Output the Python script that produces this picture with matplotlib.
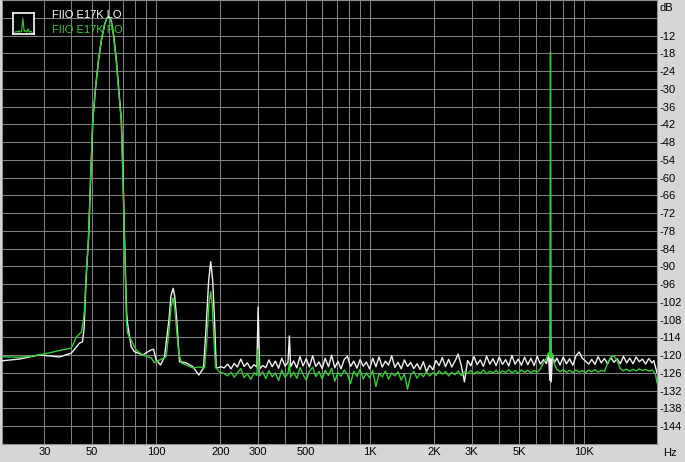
import matplotlib
matplotlib.use('Agg')
import matplotlib.pyplot as plt
from matplotlib.ticker import FixedLocator, NullFormatter

# Axis ticks
x_ticks = [30, 50, 100, 200, 300, 500, 1000, 2000, 3000, 5000, 10000]
x_labels = ['30', '50', '100', '200', '300', '500', '1K', '2K', '3K', '5K', '10K']
x_minor = [40, 60, 70, 80, 90, 400, 600, 700, 800, 900,
           4000, 6000, 7000, 8000, 9000]
y_ticks = [-144, -138, -132, -126, -120, -114, -108, -102, -96, -90, -84, -78,
           -72, -66, -60, -54, -48, -42, -36, -30, -24, -18, -12]
y_minor = [-6]

# FIIO E17K LO (white) - low frequency part
lo_head_freq = [19, 22.9, 28.4, 35.3, 40.1, 43.8, 45.2, 46.0, 46.5, 47.1, 48.3,
                49.4, 50.6, 52.1, 53.8, 55.5, 57.4, 58.9, 60.1, 61.6, 63.3, 65.2,
                66.8, 68.8, 70.1, 71.2, 72.2, 72.8, 73.4, 76.4, 79.1, 86.6, 94.8,
                97.2, 100.0, 104.8, 109.4, 114.8, 117.3, 120.0, 122.1, 124.8,
                128.6, 138.2, 148.5, 158.4, 166.6, 171.5, 176.0, 180.0, 184.0,
                188.0, 191.0, 201.6]
lo_head_db = [-121.9, -121.3, -119.9, -120.6, -119.3, -115.9, -115.5, -111.0,
              -103.0, -93.0, -80.0, -60.0, -40.0, -29.5, -20.2, -13.4, -8.3,
              -6.0, -5.7, -6.9, -12.0, -20.5, -30.0, -41.0, -61.0, -81.5, -98.0,
              -106.0, -109.1, -117.1, -118.8, -119.9, -118.2, -118.0, -121.6,
              -123.3, -120.6, -108.0, -100.0, -97.4, -100.0, -108.0, -122.2,
              -122.6, -123.9, -126.7, -124.3, -110.0, -95.0, -88.4, -95.0,
              -110.0, -124.4, -123.9]

# FIIO E17K PO (green) - low frequency part
po_head_freq = [19, 22.9, 26.3, 31.6, 36.4, 40.1, 42.3, 44.7, 45.7, 46.2, 46.9,
                48.2, 49.3, 50.5, 52.0, 53.7, 55.4, 57.3, 58.8, 60.0, 61.4, 63.1,
                65.0, 66.6, 68.6, 69.9, 71.0, 72.0, 72.6, 73.4, 76.4, 80.6, 86.3,
                94.8, 98.2, 103.6, 109.4, 111.4, 114.8, 117.3, 120.0, 122.1,
                124.8, 127.6, 131.0, 138.2, 148.0, 159.4, 168.4, 172.6, 176.5,
                180.0, 183.0, 186.5, 189.6, 198.0]
po_head_db = [-120.5, -120.7, -120.3, -119.2, -118.2, -117.6, -113.9, -112.2,
              -108.0, -104.7, -94.6, -81.1, -60.8, -40.5, -29.7, -20.3, -13.5,
              -8.4, -6.1, -5.6, -6.8, -11.8, -20.3, -29.7, -40.5, -60.8, -81.1,
              -98.0, -108.1, -112.5, -114.9, -118.2, -119.9, -120.9, -122.6,
              -121.6, -120.9, -120.5, -112.0, -104.0, -100.7, -104.0, -112.0,
              -119.3, -122.6, -123.3, -124.3, -124.0, -124.3, -115.0, -103.0,
              -98.5, -103.0, -115.0, -124.0, -125.7]

# Noise floor, shared frequencies
noise_freq = [208, 216, 224, 232, 240, 249, 258, 267, 277, 287,
              296, 300, 305, 315, 326, 337, 349, 361, 374, 387,
              401, 414, 420, 426, 440, 455, 471, 487, 504, 521,
              540, 558, 578, 598, 618, 640, 662, 685, 709, 733,
              759, 785, 812, 840, 870, 900, 931, 963, 997, 1031,
              1067, 1104, 1142, 1182, 1223, 1265, 1309, 1354, 1401, 1450,
              1500, 1552, 1606, 1662, 1719, 1779, 1840, 1904, 1970, 2038,
              2109, 2182, 2258, 2336, 2417, 2501, 2588, 2677, 2770, 2866,
              2966, 3069, 3175, 3285, 3399, 3517, 3639, 3765, 3896, 4031,
              4171, 4315, 4465, 4620, 4780, 4946, 5117, 5295, 5478, 5668,
              5865, 6068, 6279, 6496, 6700, 6850, 6950, 7000, 7050, 7150,
              7300, 7500, 7760, 8030, 8310, 8600, 8900, 9210, 9530, 9860,
              10200, 10560, 10920, 11300, 11690, 12100, 12520, 12950, 13400, 13870,
              14350, 14850, 15360, 15900, 16450, 17020, 17610, 18220, 18850, 19500,
              20180, 20880, 21300, 21700, 22050]
lo_noise_db = [-124.3, -123.0, -124.6, -122.8, -124.0, -121.3, -123.8, -122.6, -124.5, -123.2,
               -124.0, -103.7, -124.6, -123.5, -124.2, -121.6, -123.9, -122.0, -124.4, -121.0,
               -123.7, -122.4, -113.5, -123.9, -121.9, -124.3, -120.5, -123.6, -121.2, -124.0,
               -120.2, -123.8, -122.3, -124.5, -121.0, -123.9, -120.0, -124.2, -122.1, -124.6,
               -121.4, -120.4, -123.8, -122.0, -124.4, -121.5, -123.7, -122.3, -124.7, -121.0,
               -123.9, -120.6, -124.0, -122.0, -123.4, -120.2, -124.1, -122.4, -124.6, -121.6,
               -123.8, -122.5, -124.5, -122.9, -124.8, -122.2, -125.6, -123.4, -124.9, -121.8,
               -123.5, -120.8, -123.9, -121.4, -124.0, -122.0, -119.6, -123.5, -129.0, -121.8,
               -123.6, -120.5, -123.2, -121.6, -123.8, -120.3, -123.0, -121.2, -123.5, -120.6,
               -123.1, -121.5, -123.6, -120.1, -123.0, -121.3, -123.4, -120.7, -123.2, -121.0,
               -123.5, -120.4, -123.0, -121.5, -122.8, -120.0, -128.5, -113.6, -129.0, -119.8,
               -122.5, -121.0, -123.3, -120.6, -122.9, -121.2, -123.4, -120.2, -118.9, -121.0,
               -122.0, -123.0, -121.4, -123.1, -120.5, -122.6, -121.1, -123.0, -120.8, -122.4,
               -121.2, -122.9, -120.4, -122.6, -121.0, -122.9, -120.6, -122.2, -121.3, -123.0,
               -121.1, -122.6, -121.8, -124.0, -126.0]
po_noise_db = [-126.2, -127.0, -125.8, -127.4, -126.0, -124.5, -127.6, -126.1, -128.2, -125.9,
               -126.8, -118.0, -127.0, -125.6, -127.9, -125.2, -127.3, -126.0, -128.6, -125.0,
               -127.5, -126.2, -122.8, -127.4, -125.7, -127.8, -124.2, -126.6, -128.4, -125.4,
               -124.0, -127.2, -125.5, -128.0, -125.1, -126.9, -124.4, -128.8, -125.8, -127.1,
               -125.0, -126.5, -129.6, -125.4, -127.2, -124.8, -128.0, -126.0, -127.6, -125.2,
               -130.6, -126.1, -127.3, -125.4, -128.1, -126.0, -127.0, -125.6, -128.4, -126.3,
               -131.5, -126.6, -125.5, -127.8, -126.1, -127.3, -125.6, -127.0, -125.9, -126.8,
               -125.3, -126.4, -125.5, -127.0, -125.8, -126.6, -125.3, -126.9, -125.6, -126.2,
               -125.2, -126.4, -125.5, -126.1, -125.0, -126.3, -125.4, -126.0, -125.1, -126.2,
               -125.3, -125.9, -124.9, -126.0, -125.2, -126.1, -125.0, -125.8, -125.1, -126.0,
               -125.2, -125.7, -124.6, -122.5, -121.0, -119.2, -120.5, -17.6, -121.0, -119.5,
               -123.0, -124.8, -125.6, -124.9, -125.8, -125.1, -125.9, -125.0, -125.7, -125.2,
               -125.9, -125.0, -125.6, -124.9, -125.7, -125.1, -125.5, -122.8, -120.6, -120.2,
               -121.8, -124.6, -125.3, -124.7, -125.4, -124.8, -125.3, -124.6, -125.2, -124.8,
               -125.4, -125.0, -125.6, -126.5, -129.3]

# small spectrum drawn inside the legend icon
icon_levels = [1, 1.5, 1, 2, 1, 1.5, 9, 1.5, 2, 1, 3, 1, 1.5, 1]

freq_lo = lo_head_freq + noise_freq
db_lo = lo_head_db + lo_noise_db
freq_po = po_head_freq + noise_freq
db_po = po_head_db + po_noise_db

W, H = 685, 462
fig = plt.figure(figsize=(W / 100, H / 100), dpi=100, facecolor='#d6d6d6')
ax = fig.add_axes([2 / W, 18 / H, 655 / W, 444 / H], facecolor='black')

ax.plot(freq_lo, db_lo, color='#f0f0f0', lw=1.0, zorder=3)
ax.plot(freq_po, db_po, color='#33cc33', lw=1.0, zorder=4)

ax.set_xscale('log')
ax.set_xlim(19, 22050)
ax.set_ylim(-150, 0)

ax.xaxis.set_major_locator(FixedLocator(x_ticks))
ax.set_xticklabels(x_labels)
ax.xaxis.set_minor_locator(FixedLocator(x_minor))
ax.xaxis.set_minor_formatter(NullFormatter())
ax.set_yticks(y_ticks)
ax.set_yticklabels([str(v) for v in y_ticks])
ax.yaxis.set_minor_locator(FixedLocator(y_minor))
ax.yaxis.tick_right()

ax.tick_params(which='both', length=0, labelsize=8, colors='black')
ax.tick_params(axis='x', pad=2.5)
ax.tick_params(axis='y', pad=1.5)
for lab in ax.get_xticklabels() + ax.get_yticklabels():
    lab.set_fontfamily('Liberation Sans')

ax.grid(which='both', color='#808080', lw=0.75, zorder=1)
ax.set_axisbelow(True)
for sp in ax.spines.values():
    sp.set_color('#909090')
    sp.set_linewidth(0.8)

fig.text(660 / W, 1 - 8 / H, 'dB', fontsize=8, family='Liberation Sans',
         ha='left', va='center')
fig.text(663 / W, 1 - 453 / H, 'Hz', fontsize=8, family='Liberation Sans',
         ha='left', va='center')

# Legend
fig.text(52 / W, 1 - 14.5 / H, 'FIIO E17K LO', color='white', fontsize=8,
         family='Liberation Sans', ha='left', va='center')
fig.text(52 / W, 1 - 30 / H, 'FIIO E17K PO', color='#33cc33', fontsize=8,
         family='Liberation Sans', ha='left', va='center')

icon = fig.add_axes([13 / W, 1 - 34 / H, 21 / W, 21 / H], facecolor='black')
icon.plot(range(len(icon_levels)), icon_levels, color='#33cc33', lw=0.8)
icon.set_xlim(-1.5, len(icon_levels) + 0.5)
icon.set_ylim(0, 12)
icon.set_xticks([])
icon.set_yticks([])
for sp in icon.spines.values():
    sp.set_color('white')
    sp.set_linewidth(1.2)

fig.savefig('out.png', dpi=100, facecolor=fig.get_facecolor())
